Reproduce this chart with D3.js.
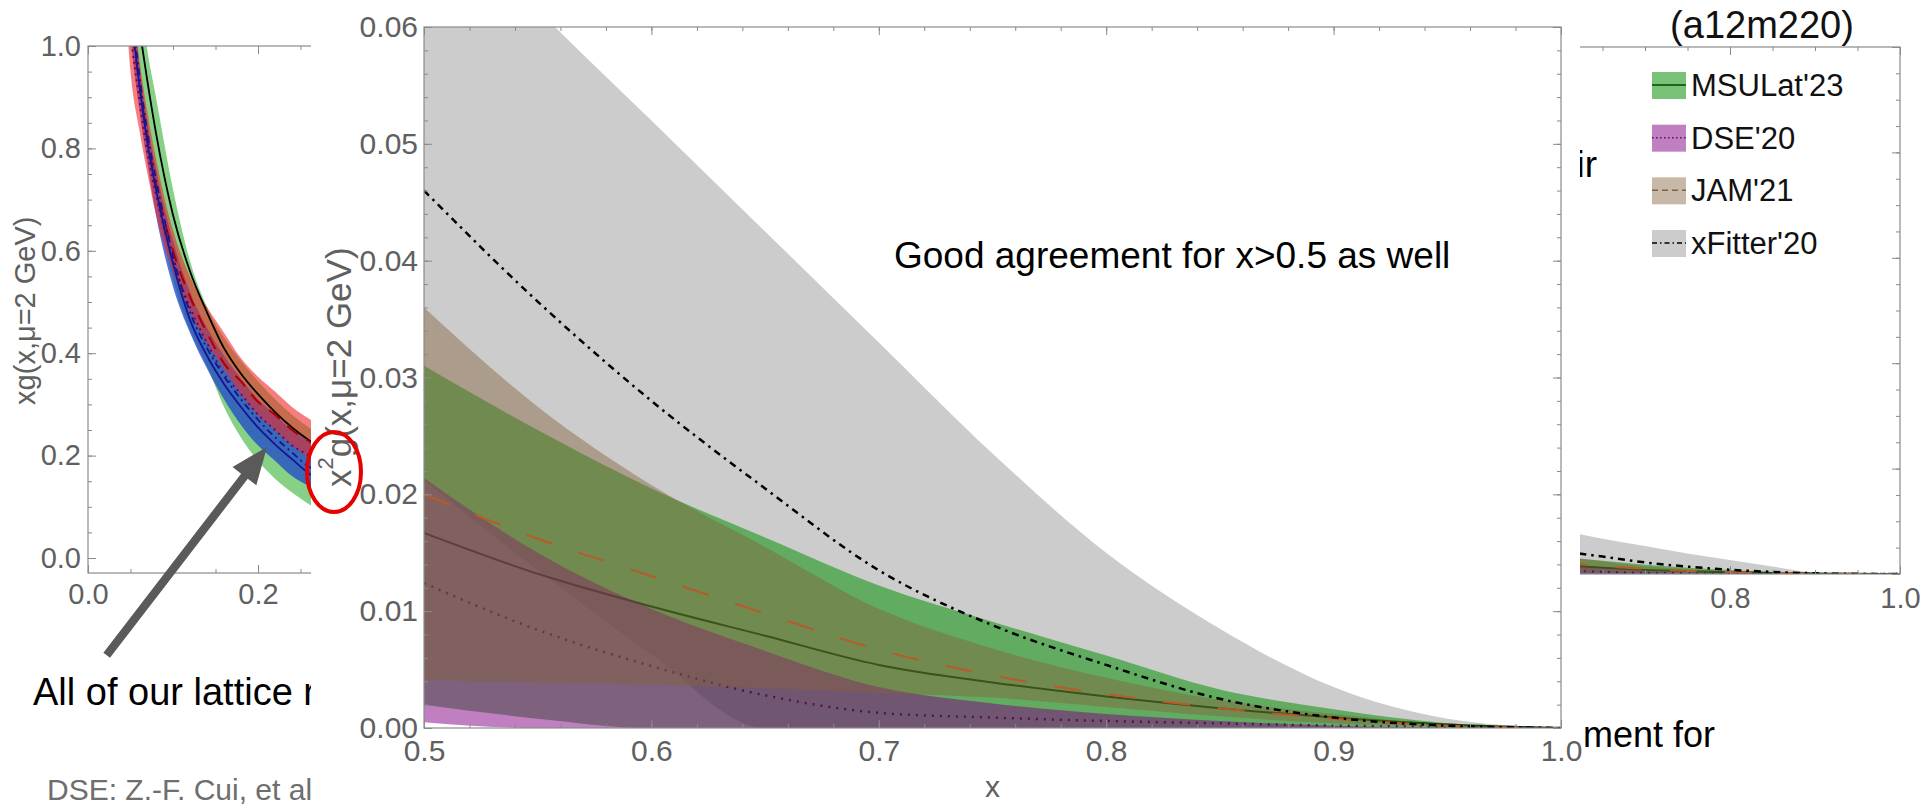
<!DOCTYPE html>
<html>
<head>
<meta charset="utf-8">
<script src="https://cdn.jsdelivr.net/npm/d3@7"></script>
<style>
  html, body { margin: 0; padding: 0; background: #ffffff; }
  svg { display: block; }
</style>
</head>
<body>
<svg id="slide" width="1920" height="807"></svg>
<script>
// ---------------- data ----------------
// Left panel: xg(x, mu=2 GeV) at small x (three lattice bands + central curves)
const leftX       = [0.04, 0.05, 0.06, 0.07, 0.08, 0.10, 0.12, 0.14, 0.16, 0.18, 0.20, 0.22, 0.24, 0.26, 0.28];
const leftGreenLo = [1.30, 1.08, 0.92, 0.80, 0.70, 0.545, 0.445, 0.375, 0.295, 0.235, 0.19, 0.155, 0.128, 0.105, 0.085];
const leftGreenHi = [1.45, 1.25, 1.12, 0.99, 0.90, 0.72, 0.58, 0.49, 0.43, 0.385, 0.345, 0.31, 0.28, 0.255, 0.235];
const leftBlueLo  = [1.25, 1.02, 0.88, 0.77, 0.67, 0.53, 0.44, 0.37, 0.31, 0.26, 0.22, 0.19, 0.16, 0.14, 0.12];
const leftBlueHi  = [1.40, 1.15, 0.97, 0.85, 0.76, 0.62, 0.52, 0.45, 0.395, 0.35, 0.31, 0.28, 0.25, 0.228, 0.21];
const leftRedLo   = [1.20, 0.95, 0.84, 0.75, 0.67, 0.56, 0.48, 0.42, 0.37, 0.32, 0.28, 0.25, 0.22, 0.195, 0.175];
const leftRedHi   = [1.35, 1.12, 0.98, 0.87, 0.78, 0.64, 0.55, 0.49, 0.44, 0.39, 0.354, 0.325, 0.295, 0.272, 0.25];
const leftBlack   = [1.35, 1.15, 1.04, 0.93, 0.83, 0.67, 0.56, 0.48, 0.41, 0.36, 0.32, 0.285, 0.255, 0.23, 0.21];
const leftBlue    = [1.30, 1.08, 0.93, 0.81, 0.72, 0.575, 0.465, 0.395, 0.34, 0.295, 0.255, 0.222, 0.193, 0.165, 0.148];
const leftBlueDD  = [1.32, 1.10, 0.95, 0.83, 0.74, 0.59, 0.48, 0.41, 0.355, 0.31, 0.27, 0.236, 0.206, 0.178, 0.16];
const leftRedDash = [1.30, 1.07, 0.93, 0.82, 0.73, 0.60, 0.51, 0.44, 0.38, 0.345, 0.305, 0.28, 0.25, 0.228, 0.21];
const leftDotted  = [1.25, 1.03, 0.90, 0.79, 0.71, 0.58, 0.49, 0.42, 0.36, 0.32, 0.28, 0.25, 0.22, 0.20, 0.18];
const leftXTicks  = [0, 0.2, 0.4, 0.6, 0.8, 1.0];
const leftXLabels = [0, 0.2];
const leftYTicks  = [0, 0.2, 0.4, 0.6, 0.8, 1.0];

// Right panel (a12m220): xg(x) at large x, with the global-fit comparison
const rightX         = [0.60, 0.65, 0.70, 0.75, 0.80, 0.85, 0.90, 0.95, 1.00];
const rightFitterLo  = [0.008, 0, 0, 0, 0, 0, 0, 0, 0];
const rightFitterHi  = [0.083, 0.067, 0.053, 0.039, 0.0266, 0.014, 0.003, 0.0005, 0];
const rightFitterMid = [0.044, 0.033, 0.022, 0.014, 0.008, 0.004, 0.0013, 0.0002, 0];
const rightMsuLo     = [0, 0, 0, 0, 0, 0, 0, 0, 0];
const rightMsuHi     = [0.033, 0.025, 0.0175, 0.012, 0.0078, 0.0039, 0.0017, 0.0004, 0];
const rightMsuMid    = [0.017, 0.012, 0.0077, 0.0052, 0.0034, 0.002, 0.001, 0.0003, 0];
const rightJamLo     = [0.006, 0.005, 0.0045, 0.004, 0.0022, 0.0012, 0.0005, 0.0001, 0];
const rightJamHi     = [0.034, 0.024, 0.0145, 0.009, 0.0054, 0.0028, 0.0013, 0.0003, 0];
const rightJamMid    = [0.0217, 0.015, 0.0096, 0.006, 0.0036, 0.002, 0.0009, 0.0002, 0];
const rightDseLo     = [0, 0, 0, 0, 0, 0, 0, 0, 0];
const rightDseHi     = [0.017, 0.010, 0.005, 0.0028, 0.0015, 0.0007, 0.0002, 0.00005, 0];
const rightDseMid    = [0.0088, 0.0043, 0.0019, 0.0012, 0.0008, 0.0004, 0.0002, 0.0001, 0];
const rightXTicks    = [0, 0.2, 0.4, 0.6, 0.8, 1.0];
const rightXLabels   = [0.8, 1.0];
const rightYTicks    = [0, 0.2, 0.4, 0.6, 0.8, 1.0];

// Inset: x^2 g(x, mu=2 GeV) for x > 0.5
const insetX      = [0.50, 0.55, 0.60, 0.65, 0.70, 0.75, 0.80, 0.85, 0.90, 0.95, 1.00];
const fitterLo    = [0.0212, 0.0135, 0.0063, 0, 0, 0, 0, 0, 0, 0, 0];
const fitterHi    = [0.072, 0.0615, 0.052, 0.0425, 0.033, 0.0235, 0.0150, 0.0085, 0.0035, 0.0008, 0];
const fitterMid   = [0.046, 0.0365, 0.028, 0.0205, 0.0135, 0.0088, 0.0054, 0.0025, 0.0009, 0.0002, 0];
const msuLo       = [0.002, 0.0008, 0, 0, 0, 0, 0, 0, 0, 0, 0];
const msuHi       = [0.031, 0.0255, 0.0205, 0.0163, 0.0122, 0.0091, 0.0062, 0.0033, 0.0016, 0.0004, 0];
const msuMid      = [0.0167, 0.0132, 0.0104, 0.0079, 0.0054, 0.0039, 0.0027, 0.0017, 0.0009, 0.0003, 0];
const dseLo       = [0.0005, 0, 0, 0, 0, 0, 0, 0, 0, 0, 0];
const dseHi       = [0.0214, 0.015, 0.0102, 0.0066, 0.0035, 0.0021, 0.0012, 0.0006, 0.0002, 0.00005, 0];
const dseMid      = [0.0124, 0.0084, 0.0053, 0.0028, 0.0013, 0.0009, 0.0006, 0.0004, 0.0002, 0.0001, 0];
const jamLo       = [0.0041, 0.0039, 0.0037, 0.0034, 0.003, 0.0026, 0.0018, 0.001, 0.0004, 0.0001, 0];
const jamHi       = [0.036, 0.0275, 0.0208, 0.0155, 0.0102, 0.0068, 0.0043, 0.0024, 0.0012, 0.0003, 0];
const jamMid      = [0.0200, 0.0162, 0.0130, 0.0098, 0.0067, 0.0045, 0.0029, 0.0017, 0.0008, 0.0002, 0];
const insetXTicks = [0.5, 0.6, 0.7, 0.8, 0.9, 1.0];
const insetYTicks = [0, 0.01, 0.02, 0.03, 0.04, 0.05, 0.06];

const legendNames = ["MSULat'23", "DSE'20", "JAM'21", "xFitter'20"];

// ---------------- styles ----------------
const FONT = "'Liberation Sans', Arial, Helvetica, sans-serif";
const FRAME = "#8a8a8a";
const LABEL = "#606060";
const sets = {
  msu:    { fill: "rgb(10,146,10)",  op: 0.55, line: "rgb(0,70,0)",     dash: null,          w: 2 },
  dse:    { fill: "rgb(129,0,129)",  op: 0.5,  line: "rgb(80,20,80)",   dash: "2,6",         w: 2.5 },
  jam:    { fill: "rgb(133,97,60)",  op: 0.45, line: "rgb(185,90,40)",  dash: "27,28",       w: 2 },
  fitter: { fill: "rgb(204,204,204)",op: 1,    line: "#000000",         dash: "7,5,2.5,5",   w: 2.5 }
};

const svg = d3.select("#slide").attr("font-family", FONT);
const defs = svg.append("defs");

// ---------------- helpers ----------------
function band(g, xs, lo, hi, sx, sy, fill, op) {
  const area = d3.area()
    .x((d, i) => sx(xs[i]))
    .y0((d, i) => sy(lo[i]))
    .y1((d, i) => sy(hi[i]))
    .curve(d3.curveMonotoneX);
  g.append("path").attr("d", area(xs)).attr("fill", fill).attr("fill-opacity", op);
}
function curve(g, xs, ys, sx, sy, stroke, width, dash) {
  const line = d3.line()
    .x((d, i) => sx(xs[i]))
    .y((d, i) => sy(ys[i]))
    .curve(d3.curveMonotoneX);
  g.append("path").attr("d", line(xs)).attr("fill", "none")
    .attr("stroke", stroke).attr("stroke-width", width)
    .attr("stroke-dasharray", dash);
}
function clipTo(id, box) {
  defs.append("clipPath").attr("id", id).append("rect")
    .attr("x", box.l).attr("y", box.t).attr("width", box.r - box.l).attr("height", box.b - box.t);
}
function rangeStep(a, b, s) {
  const out = [];
  for (let i = 0; a + i * s <= b + 1e-9; i++) out.push(+(a + i * s).toFixed(6));
  return out;
}
// Mathematica-style frame: inward ticks on all four sides, labels on the bottom and left
function frame(g, sx, sy, box, spec) {
  const put = (axis, tx, ty, vals, len, fmt, pad) => {
    const a = g.append("g").attr("transform", `translate(${tx},${ty})`)
      .call(axis.tickValues(vals).tickSize(-len).tickPadding(pad).tickFormat(fmt));
    a.select(".domain").remove();
    a.selectAll("line").attr("stroke", FRAME).attr("stroke-width", 1);
    a.selectAll("text").attr("fill", LABEL).attr("font-size", spec.fs).attr("font-family", FONT);
    return a;
  };
  const none = () => "";
  const labelIf = (list, fmt) => v => (list.some(u => Math.abs(u - v) < 1e-9) ? fmt(v) : "");
  put(d3.axisBottom(sx), 0, box.b, spec.xMinor, 4, none, 0);
  put(d3.axisBottom(sx), 0, box.b, spec.xMajor, 8, labelIf(spec.xLabels, spec.xFmt), spec.xPad);
  put(d3.axisTop(sx), 0, box.t, spec.xMinor, 4, none, 0);
  put(d3.axisTop(sx), 0, box.t, spec.xMajor, 8, none, 0);
  put(d3.axisLeft(sy), box.l, 0, spec.yMinor, 4, none, 0);
  put(d3.axisLeft(sy), box.l, 0, spec.yMajor, 8, labelIf(spec.yLabels, spec.yFmt), spec.yPad);
  put(d3.axisRight(sy), box.r, 0, spec.yMinor, 4, none, 0);
  put(d3.axisRight(sy), box.r, 0, spec.yMajor, 8, none, 0);
  g.selectAll("text").filter(function () { return this.textContent === ""; }).remove();
  g.append("rect").attr("x", box.l).attr("y", box.t)
    .attr("width", box.r - box.l).attr("height", box.b - box.t)
    .attr("fill", "none").attr("stroke", FRAME).attr("stroke-width", 1.2);
}
function drawComparison(g, xs, d, sx, sy) {
  band(g, xs, d.fitterLo, d.fitterHi, sx, sy, sets.fitter.fill, sets.fitter.op);
  band(g, xs, d.msuLo, d.msuHi, sx, sy, sets.msu.fill, sets.msu.op);
  curve(g, xs, d.msuMid, sx, sy, sets.msu.line, sets.msu.w, sets.msu.dash);
  band(g, xs, d.dseLo, d.dseHi, sx, sy, sets.dse.fill, sets.dse.op);
  curve(g, xs, d.dseMid, sx, sy, sets.dse.line, sets.dse.w, sets.dse.dash);
  band(g, xs, d.jamLo, d.jamHi, sx, sy, sets.jam.fill, sets.jam.op);
  curve(g, xs, d.jamMid, sx, sy, sets.jam.line, sets.jam.w, sets.jam.dash);
  curve(g, xs, d.fitterMid, sx, sy, sets.fitter.line, sets.fitter.w, sets.fitter.dash);
}

// ---------------- left panel ----------------
const xL = d3.scaleLinear().domain([0, 1]).range([88, 938]);
const yL = d3.scaleLinear().domain([0, 1]).range([558, 46]);
const boxL = { l: xL(0), r: xL(1), t: yL(1), b: yL(-0.0293) };
clipTo("clipL", boxL);
const gL = svg.append("g");
const gLd = gL.append("g").attr("clip-path", "url(#clipL)");
band(gLd, leftX, leftGreenLo, leftGreenHi, xL, yL, "rgb(60,180,60)", 0.62);
band(gLd, leftX, leftBlueLo, leftBlueHi, xL, yL, "rgb(30,70,200)", 0.75);
band(gLd, leftX, leftRedLo, leftRedHi, xL, yL, "rgb(240,40,40)", 0.6);
curve(gLd, leftX, leftBlack, xL, yL, "#000000", 1.8, null);
curve(gLd, leftX, leftDotted, xL, yL, "rgb(110,0,110)", 2, "2,4");
curve(gLd, leftX, leftRedDash, xL, yL, "rgb(170,0,0)", 2, "14,10");
curve(gLd, leftX, leftBlueDD, xL, yL, "rgb(20,20,150)", 1.8, "7,4,2,4");
curve(gLd, leftX, leftBlue, xL, yL, "rgb(20,20,150)", 1.8, null);
frame(gL, xL, yL, boxL, {
  xMajor: leftXTicks, xLabels: leftXLabels, xMinor: rangeStep(0, 1, 0.05), xFmt: d3.format(".1f"), xPad: 10,
  yMajor: leftYTicks, yLabels: leftYTicks, yMinor: rangeStep(0, 1, 0.05), yFmt: d3.format(".1f"), yPad: 7, fs: 29
});
gL.append("text")
  .attr("transform", `translate(25,${yL(0.483)}) rotate(-90)`)
  .attr("text-anchor", "middle").attr("dominant-baseline", "central")
  .attr("font-size", 29).attr("fill", LABEL)
  .text("xg(x,\u03bc=2 GeV)");

// arrow pointing at the bands
const arrowTail = { x: 0.022, y: -0.19 };
const arrowTip  = { x: 0.2106, y: 0.217 };
(function drawArrow() {
  const x0 = xL(arrowTail.x), y0 = yL(arrowTail.y), x1 = xL(arrowTip.x), y1 = yL(arrowTip.y);
  const len = Math.hypot(x1 - x0, y1 - y0), ux = (x1 - x0) / len, uy = (y1 - y0) / len;
  const nx = -uy, ny = ux, headL = 37, headW = 15, shaftW = 4.2;
  const bx = x1 - ux * headL, by = y1 - uy * headL;
  const pts = [
    [x0 + nx * shaftW, y0 + ny * shaftW], [bx + nx * shaftW, by + ny * shaftW],
    [bx + nx * headW, by + ny * headW], [x1, y1],
    [bx - nx * headW, by - ny * headW], [bx - nx * shaftW, by - ny * shaftW],
    [x0 - nx * shaftW, y0 - ny * shaftW]
  ];
  gL.append("path").attr("d", d3.line()(pts) + "Z").attr("fill", "rgb(90,90,90)");
})();

// ---------------- right panel ----------------
const xR = d3.scaleLinear().domain([0, 1]).range([1050, 1900]);
const yR = d3.scaleLinear().domain([0, 1]).range([574, 47]);
const boxR = { l: xR(0), r: xR(1), t: yR(1), b: yR(0) };
clipTo("clipR", boxR);
const gR = svg.append("g");
const gRd = gR.append("g").attr("clip-path", "url(#clipR)");
drawComparison(gRd, rightX, {
  fitterLo: rightFitterLo, fitterHi: rightFitterHi, fitterMid: rightFitterMid,
  msuLo: rightMsuLo, msuHi: rightMsuHi, msuMid: rightMsuMid,
  dseLo: rightDseLo, dseHi: rightDseHi, dseMid: rightDseMid,
  jamLo: rightJamLo, jamHi: rightJamHi, jamMid: rightJamMid
}, xR, yR);
frame(gR, xR, yR, boxR, {
  xMajor: rightXTicks, xLabels: rightXLabels, xMinor: rangeStep(0, 1, 0.05), xFmt: d3.format(".1f"), xPad: 13,
  yMajor: rightYTicks, yLabels: [], yMinor: rangeStep(0, 1, 0.05), yFmt: d3.format(".1f"), yPad: 7, fs: 29
});
gR.append("text").attr("x", 1762).attr("y", 38).attr("text-anchor", "middle")
  .attr("font-size", 38).attr("fill", "#111").text("(a12m220)");

// legend
const legendKeys = ["msu", "dse", "jam", "fitter"];
const legendY = d3.scalePoint().domain(legendNames).range([85, 243]);
const gLeg = gR.append("g");
legendNames.forEach((name, i) => {
  const s = sets[legendKeys[i]], cy = legendY(name);
  gLeg.append("rect").attr("x", 1652).attr("y", cy - 13).attr("width", 34).attr("height", 27)
    .attr("fill", s.fill).attr("fill-opacity", s.op);
  gLeg.append("line").attr("x1", 1652).attr("x2", 1686).attr("y1", cy).attr("y2", cy)
    .attr("stroke", i === 2 ? "rgb(120,100,70)" : s.line).attr("stroke-width", 1.5)
    .attr("stroke-dasharray", i === 0 ? null : i === 1 ? "1.5,2.5" : i === 2 ? "6,4" : "5,3,1.5,3");
  gLeg.append("text").attr("x", 1691).attr("y", cy + 11).attr("font-size", 31)
    .attr("fill", "#111").text(name);
});

// ---------------- slide text around the inset ----------------
const gT = svg.append("g").attr("fill", "#000");
gT.append("text").attr("x", 33).attr("y", 705).attr("font-size", 38).text("All of our lattice r");
gT.append("text").attr("x", 47).attr("y", 800).attr("font-size", 30).attr("fill", "rgb(110,110,110)")
  .text("DSE: Z.-F. Cui, et al");
gT.append("text").attr("x", 1597).attr("y", 177).attr("text-anchor", "end").attr("font-size", 37).text("air");
gT.append("text").attr("x", 1583).attr("y", 747).attr("font-size", 36).text("ment for");

// ---------------- inset ----------------
const xI = d3.scaleLinear().domain([0.5, 1]).range([424, 1561]);
const yI = d3.scaleLinear().domain([0, 0.06]).range([728, 27]);
const boxI = { l: xI(0.5), r: xI(1), t: yI(0.06), b: yI(0) };
const gI = svg.append("g");
gI.append("rect").attr("x", 311).attr("y", 0).attr("width", 1580 - 311).attr("height", 807).attr("fill", "#fff");
clipTo("clipI", boxI);
const gId = gI.append("g").attr("clip-path", "url(#clipI)");
drawComparison(gId, insetX, {
  fitterLo, fitterHi, fitterMid, msuLo, msuHi, msuMid,
  dseLo, dseHi, dseMid, jamLo, jamHi, jamMid
}, xI, yI);
frame(gI, xI, yI, boxI, {
  xMajor: insetXTicks, xLabels: insetXTicks, xMinor: rangeStep(0.5, 1, 0.02), xFmt: d3.format(".1f"), xPad: 12,
  yMajor: insetYTicks, yLabels: insetYTicks, yMinor: rangeStep(0, 0.06, 0.002), yFmt: d3.format(".2f"), yPad: 6, fs: 30
});
gI.append("text").attr("x", xI(0.75)).attr("y", 797).attr("text-anchor", "middle")
  .attr("font-size", 30).attr("fill", LABEL).text("x");
const yTitle = gI.append("text")
  .attr("transform", "translate(338,487) rotate(-90)")
  .attr("text-anchor", "start").attr("dominant-baseline", "central")
  .attr("font-size", 35).attr("fill", LABEL);
yTitle.append("tspan").text("x");
yTitle.append("tspan").attr("font-size", 22).attr("dy", -13).text("2");
yTitle.append("tspan").attr("dy", 13).text("g(x,\u03bc=2 GeV)");
gI.append("text").attr("x", 894).attr("y", 268).attr("font-size", 37).attr("fill", "#000")
  .text("Good agreement for x>0.5 as well");

// highlight ring around the axis title
svg.append("ellipse").attr("cx", 334).attr("cy", 472).attr("rx", 27).attr("ry", 40)
  .attr("fill", "none").attr("stroke", "rgb(230,0,0)").attr("stroke-width", 4);
</script>
</body>
</html>
